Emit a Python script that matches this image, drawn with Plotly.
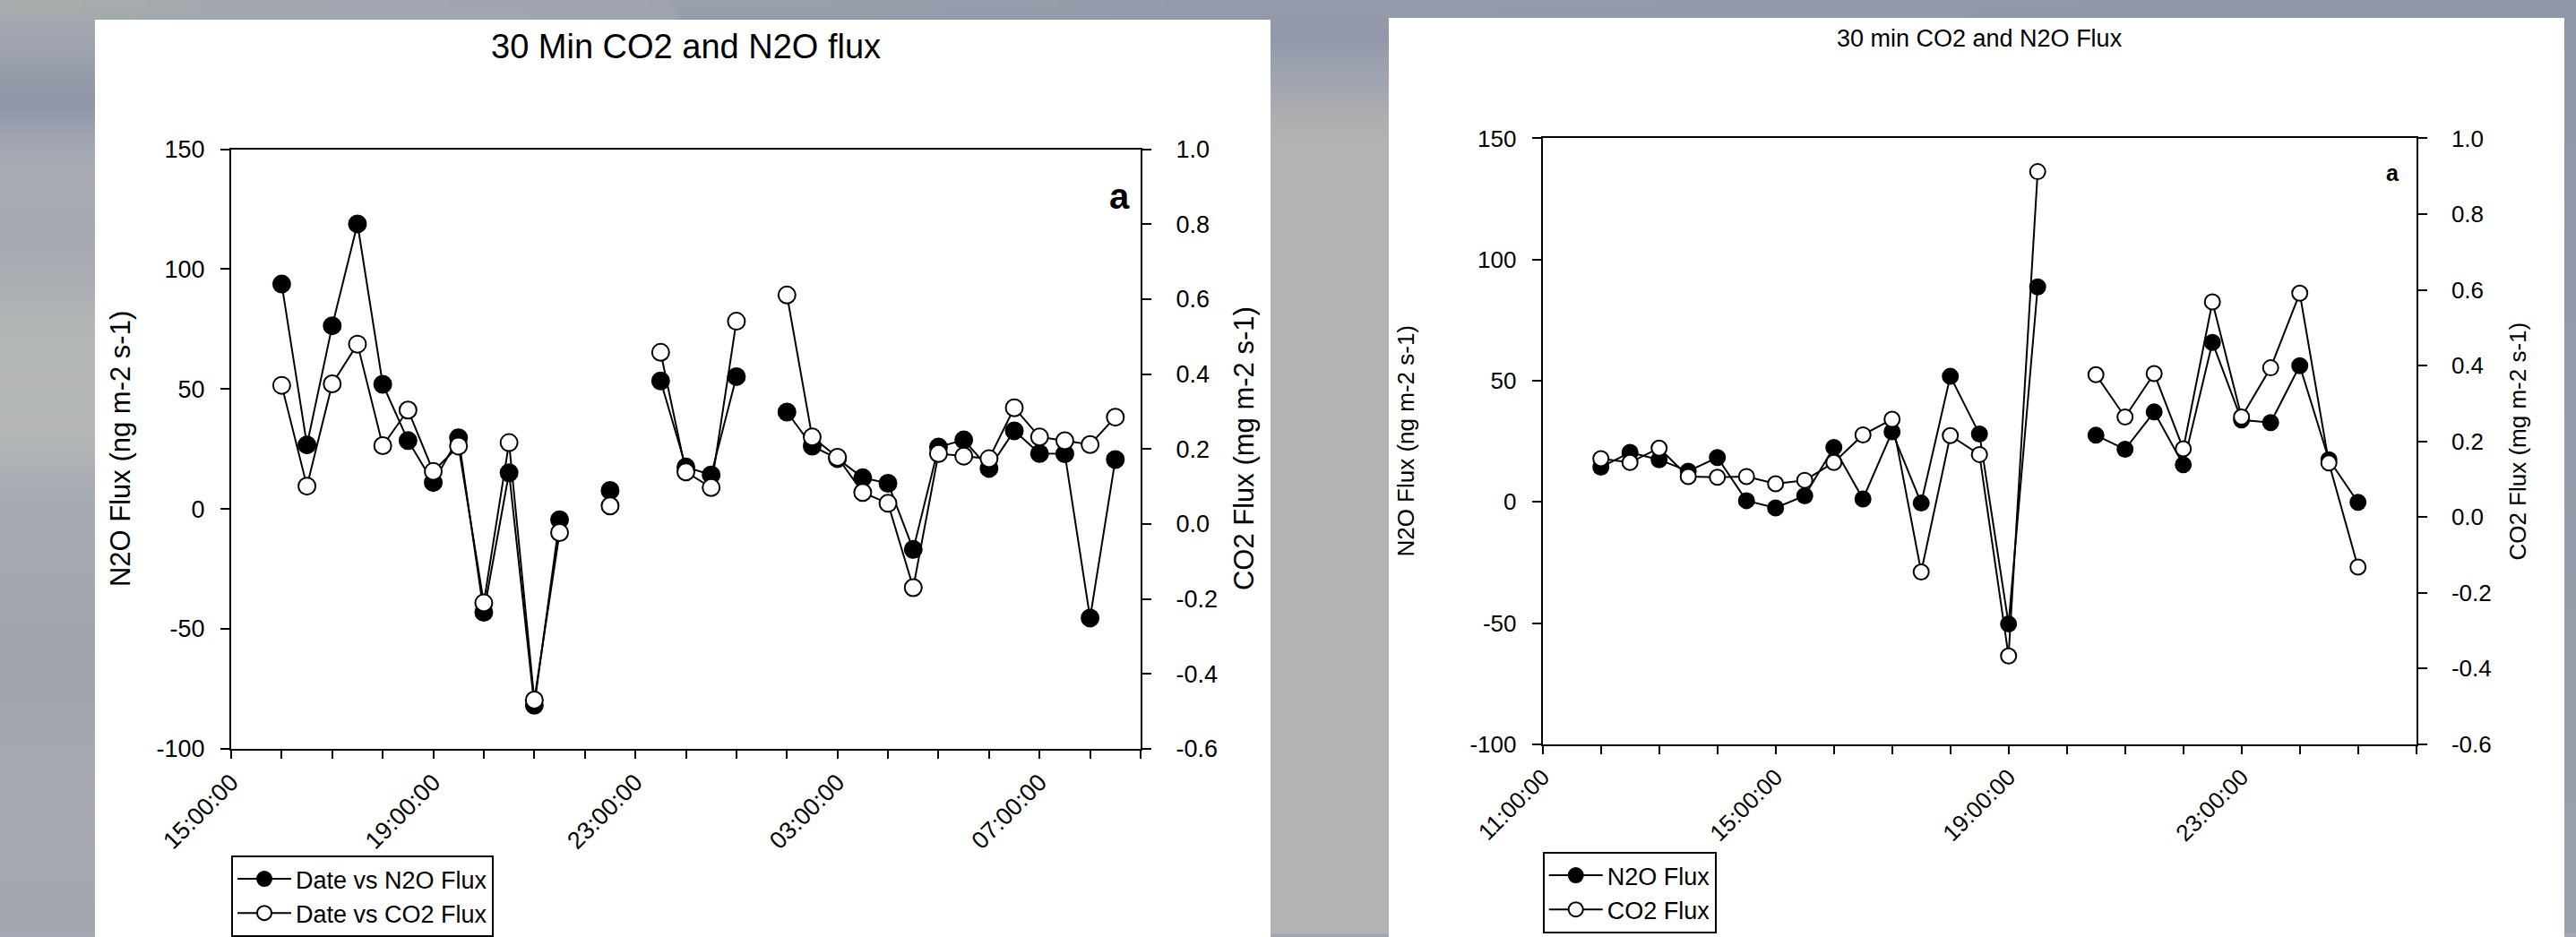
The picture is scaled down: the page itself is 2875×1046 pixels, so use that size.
import base64
import struct
import zlib
import plotly.graph_objects as go

W, H = 2875, 1046
FONT = "Liberation Sans, Arial, Helvetica, sans-serif"

# ---------------- data ----------------
left_times = [
    "2000-01-01 16:00", "2000-01-01 16:30", "2000-01-01 17:00", "2000-01-01 17:30",
    "2000-01-01 18:00", "2000-01-01 18:30", "2000-01-01 19:00", "2000-01-01 19:30",
    "2000-01-01 20:00", "2000-01-01 20:30", "2000-01-01 21:00", "2000-01-01 21:30",
    "2000-01-01 22:00", "2000-01-01 22:30", "2000-01-01 23:00", "2000-01-01 23:30",
    "2000-01-02 00:00", "2000-01-02 00:30", "2000-01-02 01:00", "2000-01-02 01:30",
    "2000-01-02 02:00", "2000-01-02 02:30", "2000-01-02 03:00", "2000-01-02 03:30",
    "2000-01-02 04:00", "2000-01-02 04:30", "2000-01-02 05:00", "2000-01-02 05:30",
    "2000-01-02 06:00", "2000-01-02 06:30", "2000-01-02 07:00", "2000-01-02 07:30",
    "2000-01-02 08:00", "2000-01-02 08:30",
]
left_n2o = [
    93.8, 26.7, 76.4, 118.9, 52.0, 28.5, 11.0, 29.7, -43.1, 15.1, -81.9, -4.5,
    None, 7.7, None, 53.4, 17.5, 14.2, 55.2, None, 40.4, 26.2, 21.0, 13.0,
    10.7, -16.9, 25.8, 28.8, 16.9, 32.6, 23.1, 23.0, -45.5, 20.6,
]
left_co2 = [
    0.370, 0.101, 0.374, 0.480, 0.209, 0.304, 0.140, 0.208, -0.211, 0.217, -0.470, -0.023,
    None, 0.048, None, 0.458, 0.139, 0.097, 0.541, None, 0.611, 0.232, 0.178, 0.084,
    0.055, -0.170, 0.188, 0.181, 0.174, 0.310, 0.232, 0.222, 0.212, 0.285,
]

right_times = [
    "2000-01-01 12:00", "2000-01-01 12:30", "2000-01-01 13:00", "2000-01-01 13:30",
    "2000-01-01 14:00", "2000-01-01 14:30", "2000-01-01 15:00", "2000-01-01 15:30",
    "2000-01-01 16:00", "2000-01-01 16:30", "2000-01-01 17:00", "2000-01-01 17:30",
    "2000-01-01 18:00", "2000-01-01 18:30", "2000-01-01 19:00", "2000-01-01 19:30",
    "2000-01-01 20:00", "2000-01-01 20:30", "2000-01-01 21:00", "2000-01-01 21:30",
    "2000-01-01 22:00", "2000-01-01 22:30", "2000-01-01 23:00", "2000-01-01 23:30",
    "2000-01-02 00:00", "2000-01-02 00:30", "2000-01-02 01:00",
]
right_n2o = [
    14.3, 20.4, 17.4, 12.7, 18.3, 0.5, -2.5, 2.5, 22.5, 1.2, 28.9, -0.5,
    51.8, 28.0, -50.4, 88.7, None, 27.5, 21.7, 37.1, 15.3, 65.8, 33.8, 32.7,
    56.2, 17.4, -0.2,
]
right_co2 = [
    0.154, 0.144, 0.182, 0.107, 0.105, 0.107, 0.088, 0.097, 0.144, 0.217, 0.258, -0.145,
    0.215, 0.165, -0.367, 0.912, None, 0.376, 0.264, 0.379, 0.180, 0.568, 0.264, 0.394,
    0.591, 0.143, -0.132,
]

left_xrange = ["2000-01-01 15:00", "2000-01-02 09:00"]
right_xrange = ["2000-01-01 11:00", "2000-01-02 02:00"]
n2o_range = [-100, 150]
co2_range = [-0.6, 1.0]
n2o_tickvals = [-100, -50, 0, 50, 100, 150]
n2o_ticktext = ["-100", "-50", "0", "50", "100", "150"]
co2_tickvals = [-0.6, -0.4, -0.2, 0.0, 0.2, 0.4, 0.6, 0.8, 1.0]
co2_ticktext = ["-0.6", "-0.4", "-0.2", "0.0", "0.2", "0.4", "0.6", "0.8", "1.0"]

left_title = "30 Min CO2 and N2O flux"
right_title = "30 min CO2 and N2O Flux"
n2o_label = "N2O Flux (ng m-2 s-1)"
co2_label = "CO2 Flux (mg m-2 s-1)"


# ---------------- blurred slide background (small PNG, browser-smoothed) ----------------
def interp(pts, v):
    if v <= pts[0][0]:
        return list(pts[0][1])
    for (a, ca), (b, cb) in zip(pts, pts[1:]):
        if v <= b:
            t = (v - a) / (b - a)
            return [ca[i] + (cb[i] - ca[i]) * t for i in range(3)]
    return list(pts[-1][1])


prof_left = [(0, (168, 172, 172)), (22, (163, 168, 177)), (70, (155, 160, 174)),
             (115, (143, 149, 165)), (150, (159, 163, 178)), (190, (168, 172, 178)),
             (260, (164, 168, 176)), (380, (180, 183, 183)), (480, (182, 184, 184)),
             (560, (166, 170, 177)), (750, (160, 164, 173)), (900, (166, 170, 176)),
             (1046, (162, 166, 174))]
prof_gap = [(0, (148, 154, 170)), (40, (146, 152, 169)), (70, (155, 160, 175)),
            (100, (164, 167, 178)), (130, (172, 174, 176)), (155, (179, 179, 179)),
            (1046, (179, 179, 179))]
prof_right = [(0, (144, 150, 167)), (300, (147, 153, 169)), (1046, (155, 160, 173))]
prof_top = [(0, (169, 173, 172)), (150, (166, 171, 172)), (250, (162, 167, 177)),
            (600, (158, 163, 176)), (1400, (149, 155, 170)), (2875, (144, 150, 167))]


def bg_color(x, y):
    if x < 760:
        c = interp(prof_left, y)
    elif x < 2200:
        c = interp(prof_gap, y)
    else:
        c = interp(prof_right, y)
    if y < 30:
        w = (30 - y) / 30.0
        t = interp(prof_top, x)
        c = [t[i] * w + c[i] * (1 - w) for i in range(3)]
    return [max(0, min(255, int(round(v)))) for v in c]


def png_uri(nx, ny):
    rows = []
    for j in range(ny):
        y = (j + 0.5) * H / ny
        row = bytearray(b"\x00")
        for i in range(nx):
            x = (i + 0.5) * W / nx
            row.extend(bg_color(x, y))
        rows.append(bytes(row))
    raw = b"".join(rows)

    def chunk(tag, data):
        out = struct.pack(">I", len(data)) + tag + data
        return out + struct.pack(">I", zlib.crc32(tag + data) & 0xFFFFFFFF)

    png = (b"\x89PNG\r\n\x1a\n"
           + chunk(b"IHDR", struct.pack(">IIBBBBB", nx, ny, 8, 2, 0, 0, 0))
           + chunk(b"IDAT", zlib.compress(raw, 9))
           + chunk(b"IEND", b""))
    return "data:image/png;base64," + base64.b64encode(png).decode()


bg_uri = png_uri(240, 88)


# ---------------- figure ----------------
def px(v):
    return v / W


def py(v):
    return 1 - v / H


fig = go.Figure()

filled = dict(symbol="circle", color="black", line=dict(color="black", width=2))
hollow = dict(symbol="circle", color="white", line=dict(color="black", width=2))
line = dict(color="black", width=2)

fig.add_trace(go.Scatter(x=left_times, y=left_n2o, name="Date vs N2O Flux",
                         mode="lines+markers", xaxis="x", yaxis="y",
                         line=line, marker=dict(size=19, **filled),
                         connectgaps=False, legend="legend"))
fig.add_trace(go.Scatter(x=left_times, y=left_co2, name="Date vs CO2 Flux",
                         mode="lines+markers", xaxis="x", yaxis="y2",
                         line=line, marker=dict(size=19, **hollow),
                         connectgaps=False, legend="legend"))
fig.add_trace(go.Scatter(x=right_times, y=right_n2o, name="N2O Flux",
                         mode="lines+markers", xaxis="x2", yaxis="y3",
                         line=line, marker=dict(size=17, **filled),
                         connectgaps=False, legend="legend2"))
fig.add_trace(go.Scatter(x=right_times, y=right_co2, name="CO2 Flux",
                         mode="lines+markers", xaxis="x2", yaxis="y4",
                         line=line, marker=dict(size=17, **hollow),
                         connectgaps=False, legend="legend2"))


def xaxis(domain, anchor, rng, fs):
    return dict(domain=domain, anchor=anchor, type="date", range=rng,
                tick0=rng[0], dtick=4 * 3600000, tickformat="%H:%M:%S", tickangle=-45,
                ticks="outside", ticklen=9, tickwidth=2, tickcolor="black",
                showline=True, linewidth=2, linecolor="black", mirror=True,
                showgrid=False, zeroline=False, automargin=False, fixedrange=True,
                tickfont=dict(family=FONT, size=fs, color="black"),
                minor=dict(dtick=3600000, tick0=rng[0], ticks="outside", ticklen=9,
                           tickwidth=2, tickcolor="black", showgrid=False))


def yaxis(domain, anchor, rng, vals, texts, fs, side, standoff, overlaying=None):
    d = dict(anchor=anchor, range=rng, tickmode="array", tickvals=vals, ticktext=texts,
             side=side, ticks="outside", ticklen=10, tickwidth=2, tickcolor="black",
             showline=True, linewidth=2, linecolor="black", mirror=False,
             showgrid=False, zeroline=False, automargin=False, fixedrange=True,
             ticklabelstandoff=standoff,
             tickfont=dict(family=FONT, size=fs, color="black"))
    if overlaying:
        d["overlaying"] = overlaying
    else:
        d["domain"] = domain
    return d


L_X = [px(258), px(1273)]
L_Y = [py(839), py(167.3)]
R_X = [px(1721.7), px(2696.7)]
R_Y = [py(834), py(155)]

legend_common = dict(bgcolor="white", bordercolor="black", borderwidth=2,
                     xanchor="left", yanchor="top", itemwidth=60,
                     font=dict(family=FONT, size=27, color="black"),
                     tracegroupgap=0)

fig.update_layout(
    width=W, height=H, template="none",
    margin=dict(l=0, r=0, t=0, b=0, pad=0),
    paper_bgcolor="#a4a8b2", plot_bgcolor="white",
    font=dict(family=FONT, color="black"),
    xaxis=xaxis(L_X, "y", left_xrange, 27),
    yaxis=yaxis(L_Y, "x", n2o_range, n2o_tickvals, n2o_ticktext, 27, "left", 12),
    yaxis2=yaxis(None, "x", co2_range, co2_tickvals, co2_ticktext, 27, "right", 22,
                 overlaying="y"),
    xaxis2=xaxis(R_X, "y3", right_xrange, 26),
    yaxis3=yaxis(R_Y, "x2", n2o_range, n2o_tickvals, n2o_ticktext, 26, "left", 12),
    yaxis4=yaxis(None, "x2", co2_range, co2_tickvals, co2_ticktext, 26, "right", 22,
                 overlaying="y3"),
    legend=dict(x=px(258), y=py(959), **legend_common),
    legend2=dict(x=px(1721.7), y=py(954.7), **legend_common),
    images=[dict(source=bg_uri, xref="paper", yref="paper", x=0, y=1, sizex=1, sizey=1,
                 xanchor="left", yanchor="top", sizing="stretch", layer="below")],
    shapes=[
        dict(type="rect", xref="paper", yref="paper", x0=px(106), x1=px(1418),
             y0=-0.05, y1=py(22), fillcolor="white", line=dict(width=0), layer="below"),
        dict(type="rect", xref="paper", yref="paper", x0=px(1550), x1=px(2862),
             y0=-0.05, y1=py(20), fillcolor="white", line=dict(width=0), layer="below"),
    ],
    annotations=[
        dict(text=left_title, x=px(765.5), y=py(52), xref="paper", yref="paper",
             showarrow=False, xanchor="center", yanchor="middle",
             font=dict(family=FONT, size=38, color="black")),
        dict(text=right_title, x=px(2209), y=py(43), xref="paper", yref="paper",
             showarrow=False, xanchor="center", yanchor="middle",
             font=dict(family=FONT, size=27, color="black")),
        dict(text="<b>a</b>", x=px(1249), y=py(220), xref="paper", yref="paper",
             showarrow=False, xanchor="center", yanchor="middle",
             font=dict(family=FONT, size=40, color="black")),
        dict(text="<b>a</b>", x=px(2670.7), y=py(193.6), xref="paper", yref="paper",
             showarrow=False, xanchor="center", yanchor="middle",
             font=dict(family=FONT, size=25, color="black")),
        dict(text=n2o_label, x=px(134), y=py(503), xref="paper", yref="paper",
             showarrow=False, textangle=-90, xanchor="center", yanchor="middle",
             font=dict(family=FONT, size=31, color="black")),
        dict(text=co2_label, x=px(1388), y=py(503), xref="paper", yref="paper",
             showarrow=False, textangle=-90, xanchor="center", yanchor="middle",
             font=dict(family=FONT, size=31, color="black")),
        dict(text=n2o_label, x=px(1569), y=py(494.5), xref="paper", yref="paper",
             showarrow=False, textangle=-90, xanchor="center", yanchor="middle",
             font=dict(family=FONT, size=26, color="black")),
        dict(text=co2_label, x=px(2810), y=py(494.5), xref="paper", yref="paper",
             showarrow=False, textangle=-90, xanchor="center", yanchor="middle",
             font=dict(family=FONT, size=26, color="black")),
    ],
)

fig.write_html(
    "out.html",
    config={"displayModeBar": False},
    post_script="document.body.style.margin='0';document.body.style.overflow='hidden';",
)
